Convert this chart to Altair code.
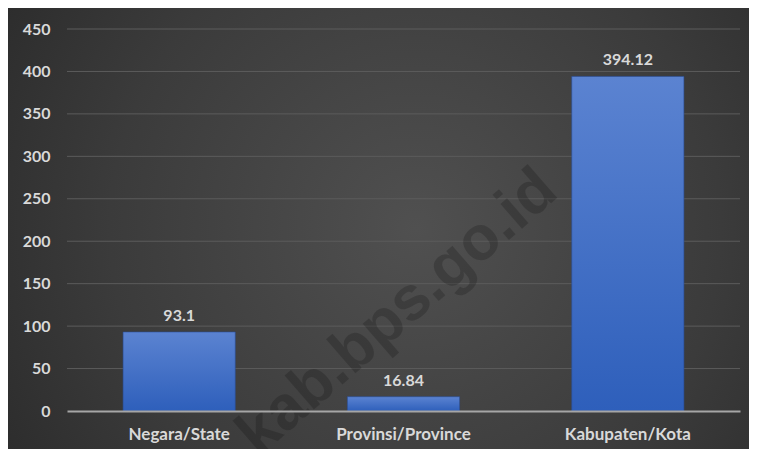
import altair as alt
import pandas as pd

categories = ["Negara/State", "Provinsi/Province", "Kabupaten/Kota"]
values = [93.1, 16.84, 394.12]
y_ticks = [0, 50, 100, 150, 200, 250, 300, 350, 400, 450]
watermark = ["kab.bps.go.id"]

W, H = 673, 382
PAD = {"left": 59, "top": 21, "right": 9, "bottom": 38}
FONT = "Lato"
TXT = "#d9d9d9"

df = pd.DataFrame({"cat": categories, "val": values})
grid_df = pd.DataFrame({"t": y_ticks[1:]})
wm_df = pd.DataFrame({"w": watermark})

y_scale = alt.Scale(domain=[0, 450], nice=False)
y_axis = alt.Axis(values=y_ticks, title=None, grid=False, domain=False,
                  ticks=False, labelColor=TXT, labelFont=FONT,
                  labelFontWeight="bold", labelFontSize=16,
                  labelPadding=17, zindex=1)
x_enc = alt.X(
    "cat:N", sort=categories,
    scale=alt.Scale(paddingInner=0.5, paddingOuter=0.25),
    axis=alt.Axis(title=None, labelAngle=0, labelColor=TXT, labelFont=FONT,
                  labelFontWeight="bold", labelFontSize=17, labelPadding=15,
                  ticks=False, domainColor="#a6a6a6", domainWidth=2,
                  grid=False, zindex=1),
)

bg = alt.Chart(pd.DataFrame({"a": [0]})).mark_rect(
    color={"gradient": "radial",
           "stops": [{"offset": 0, "color": "#505050"},
                     {"offset": 0.55, "color": "#3b3b3b"},
                     {"offset": 1, "color": "#252525"}],
           "x1": 0.55, "y1": 0.5, "r1": 0, "x2": 0.55, "y2": 0.5, "r2": 0.75}
).encode(x=alt.value(-59), x2=alt.value(682), y=alt.value(-21), y2=alt.value(420))

grid = alt.Chart(grid_df).mark_rule(color="#5c5c5c", strokeWidth=1).encode(
    y=alt.Y("t:Q", scale=y_scale, axis=y_axis)
)

wm = alt.Chart(wm_df).mark_text(
    angle=319, fontSize=62, fontWeight="bold", font="Arial",
    color="#000000", opacity=0.18, align="center", baseline="middle"
).encode(text="w:N", x=alt.value(330), y=alt.value(283))

bars = alt.Chart(df).mark_bar(
    color={"gradient": "linear",
           "stops": [{"offset": 0, "color": "#5b83d1"},
                     {"offset": 1, "color": "#2e5fbb"}],
           "x1": 0, "y1": 0, "x2": 0, "y2": 1},
    stroke="#2a4f98", strokeWidth=0.6
).encode(
    x=x_enc,
    y=alt.Y("val:Q", scale=y_scale, axis=y_axis),
)

labels = alt.Chart(df).mark_text(
    dy=-8, baseline="bottom", fontSize=16, fontWeight="bold", font=FONT, color=TXT
).encode(x=alt.X("cat:N", sort=categories), y=alt.Y("val:Q", scale=y_scale), text="val:Q")

chart = alt.layer(bg, grid, wm, bars, labels).properties(
    width=W, height=H, padding=PAD, autosize=alt.AutoSizeParams(type="none"),
    background="#2a2a2a"
).configure_view(stroke=None)

chart.save("out.html", embed_options={"renderer": "svg", "actions": False})
